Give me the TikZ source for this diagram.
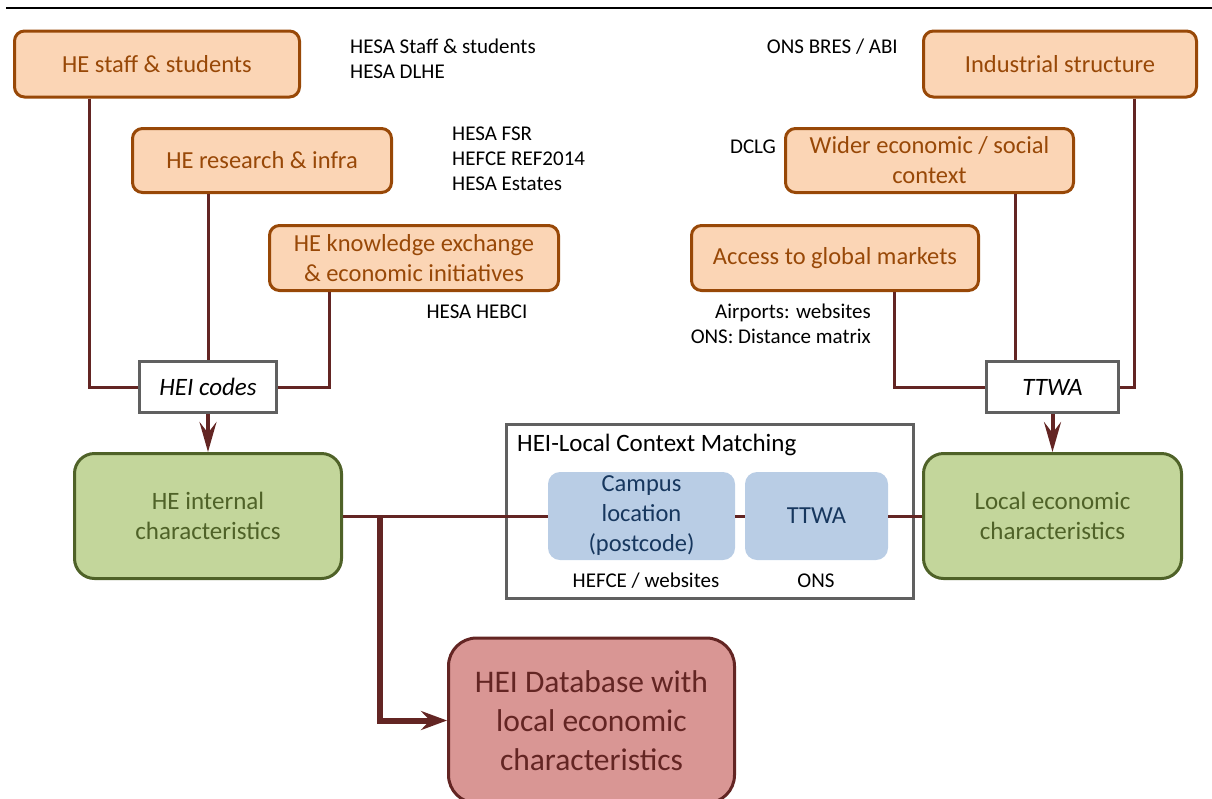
\documentclass[tikz,border=0pt]{standalone}
\usepackage{fontspec}
\setmainfont{Carlito}
\usetikzlibrary{arrows.meta}
\definecolor{srcfill}{RGB}{251,213,181}
\definecolor{srcedge}{RGB}{152,72,7}
\definecolor{charfill}{RGB}{195,214,155}
\definecolor{charedge}{RGB}{79,98,40}
\definecolor{matchfill}{RGB}{185,205,229}
\definecolor{matchtext}{RGB}{23,55,94}
\definecolor{dbfill}{RGB}{217,150,148}
\definecolor{dbedge}{RGB}{99,37,35}
\definecolor{keygray}{RGB}{96,96,96}
\definecolor{linkred}{RGB}{99,37,35}
\tikzset{
  srcbox/.style={rounded corners=10pt, draw=srcedge, fill=srcfill, line width=3pt, text=srcedge,
               align=center, inner sep=0pt, font=\fontsize{24.5}{30}\selectfont},
  keybox/.style={draw=keygray, fill=white, line width=3pt, inner sep=0pt,
               font=\fontsize{25}{30}\selectfont\itshape},
  charbox/.style={rounded corners=20pt, draw=charedge, fill=charfill, line width=3pt, text=charedge,
               align=center, inner sep=0pt, font=\fontsize{25}{30}\selectfont},
  matchbox/.style={rounded corners=12pt, fill=matchfill, text=matchtext,
               align=center, inner sep=0pt, font=\fontsize{24.5}{30}\selectfont},
  groupbox/.style={draw=keygray, line width=3pt, inner sep=0pt},
  dbbox/.style={rounded corners=28pt, draw=dbedge, fill=dbfill, line width=3pt, text=dbedge,
               align=center, inner sep=0pt, font=\fontsize{31.5}{39}\selectfont},
  note/.style={inner sep=0pt, font=\fontsize{21}{25}\selectfont},
  link/.style={draw=linkred, line width=3pt},
  linka/.style={-{Stealth[length=30pt, width=17pt, inset=11pt]}, draw=linkred, line width=4pt},
  linkdb/.style={-{Stealth[length=26pt, width=19pt, inset=9pt]}, draw=linkred, line width=6pt},
}
\begin{document}
\begin{tikzpicture}[x=1pt, y=-1pt]
    \useasboundingbox (0,0) rectangle (1212,798);
    \draw[line width=2pt] (6,8) -- (1212,8);
    % HE side
    \node[srcbox, minimum width=285pt, minimum height=66pt] (hss) at (157,64) {HE staff \& students};
    \node[srcbox, minimum width=259pt, minimum height=64pt] (hri) at (262,160.5) {HE research \& infra};
    \node[srcbox, minimum width=289pt, minimum height=65pt] (hke) at (414,258) {HE knowledge exchange\\ \& economic initiatives};
    \node[note, anchor=west, align=left] (nhss) at (350,58.5) {HESA Staff \& students\\HESA DLHE};
    \node[note, anchor=west, align=left] (nhri) at (452,159) {HESA FSR\\HEFCE REF2014\\HESA Estates};
    \node[note] (nhke) at (477,312) {HESA HEBCI};
    \node[keybox, minimum width=137pt, minimum height=51pt] (hei) at (208,387) {HEI codes};
    \node[charbox, minimum width=267pt, minimum height=125pt] (hic) at (208,516) {HE internal\\characteristics};
    % local side
    \node[srcbox, minimum width=273pt, minimum height=66pt] (ind) at (1060,64) {Industrial structure};
    \node[srcbox, minimum width=288pt, minimum height=64pt] (wes) at (929.5,160.5) {Wider economic / social\\context};
    \node[srcbox, minimum width=287pt, minimum height=65pt] (agm) at (835,258) {Access to global markets};
    \node[note, anchor=east] (nind) at (898,47) {ONS BRES / ABI};
    \node[note, anchor=east] (nwes) at (776,147) {DCLG};
    \node[note, anchor=east, align=right] (nagm) at (871,324) {Airports: websites\\ONS: Distance matrix};
    \node[keybox, minimum width=132pt, minimum height=51pt] (ttwa) at (1052.5,387) {TTWA};
    \node[charbox, minimum width=258pt, minimum height=125pt] (lec) at (1052.5,516) {Local economic\\characteristics};
    % matching
    \node[groupbox, minimum width=407pt, minimum height=174pt] (hlcm) at (709.5,511.5) {};
    \node[inner sep=0pt, anchor=west, font=\fontsize{25}{30}\selectfont] (hlct) at (517,445) {HEI-Local Context Matching};
    \node[matchbox, minimum width=187pt, minimum height=88pt] (cl) at (641.5,516) {Campus\\location\\(postcode)};
    \node[matchbox, minimum width=143pt, minimum height=88pt] (tt) at (816.5,516) {TTWA};
    \node[note] (ncl) at (646,581) {HEFCE / websites};
    \node[note] (ntt) at (816,581) {ONS};
    % result
    \node[dbbox, minimum width=286pt, minimum height=165pt] (db) at (591.5,720.5) {HEI Database with\\local economic\\characteristics};
    % connectors
    \draw[link] ([xshift=-68pt]hss.south) |- (hei.west);
    \draw[link] (hei.north |- hri.south) -- (hei.north);
    \draw[link] ([xshift=-85pt]hke.south) |- (hei.east);
    \draw[link] ([xshift=59pt]agm.south) |- (ttwa.west);
    \draw[link] ([xshift=86pt]wes.south) -- ([xshift=86pt]wes.south |- ttwa.north);
    \draw[link] ([xshift=74pt]ind.south) |- (ttwa.east);
    \draw[linka] (hei.south) -- (hic.north);
    \draw[linka] (ttwa.south) -- (lec.north);
    \draw[link] (hic.east) -- (cl.west);
    \draw[link] (cl.east) -- (tt.west);
    \draw[link] (tt.east) -- (lec.west);
    \draw[linkdb] ([xshift=37pt]hic.east) |- (db.west);
  \end{tikzpicture}
\end{document}
